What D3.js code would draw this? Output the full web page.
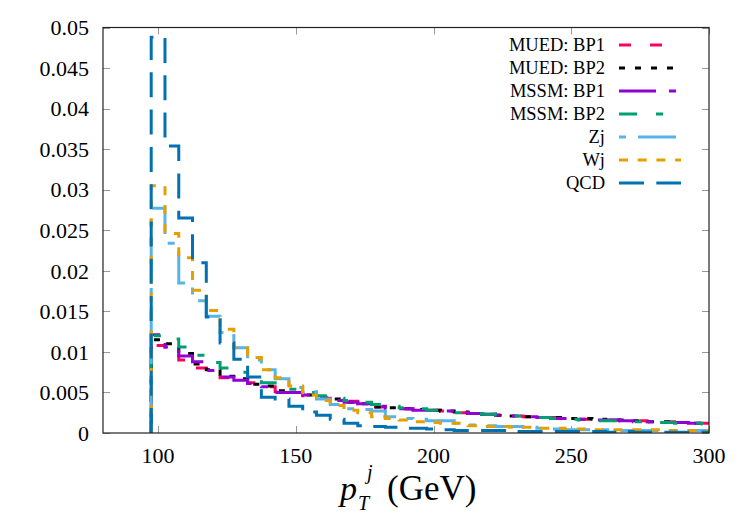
<!DOCTYPE html>
<html><head><meta charset="utf-8">
<script src="https://cdn.jsdelivr.net/npm/d3@7"></script>
<style>body{margin:0;background:#fff} text{font-family:"Liberation Serif","DejaVu Serif",serif;}</style>
</head><body>
<svg id="c" width="750" height="525"></svg>
<script>
const xValues = d3.range(100, 301, 5);
const seriesNames = ["MUED: BP1","MUED: BP2","MSSM: BP1","MSSM: BP2","Zj","Wj","QCD"];
const muedBP1 = [0.0108,0.0106,0.0090,0.0080,0.0075,0.0068,0.0066,0.0062,0.0057,0.0051,0.0050,0.0046,0.0043,0.0041,0.0039,0.0036,0.0032,0.0030,0.0030,0.0029,0.0028,0.0027,0.0025,0.0024,0.0023,0.0022,0.0021,0.0020,0.0019,0.0019,0.0018,0.0017,0.0016,0.0016,0.0015,0.0015,0.0014,0.0014,0.0013,0.0012,0.0012];
const muedBP2 = [0.0115,0.0110,0.0098,0.0085,0.0078,0.0070,0.0067,0.0060,0.0058,0.0052,0.0050,0.0047,0.0044,0.0042,0.0038,0.0036,0.0032,0.0031,0.0030,0.0029,0.0028,0.0027,0.0026,0.0024,0.0023,0.0022,0.0021,0.0020,0.0019,0.0019,0.0018,0.0018,0.0017,0.0016,0.0016,0.0015,0.0014,0.0014,0.0013,0.0012,0.0012];
const mssmBP1 = [0.0121,0.0106,0.0095,0.0088,0.0077,0.0069,0.0065,0.0061,0.0057,0.0050,0.0050,0.0047,0.0044,0.0040,0.0038,0.0036,0.0033,0.0030,0.0030,0.0028,0.0028,0.0027,0.0025,0.0024,0.0023,0.0022,0.0021,0.0020,0.0019,0.0018,0.0018,0.0017,0.0016,0.0016,0.0015,0.0014,0.0014,0.0013,0.0013,0.0012,0.0012];
const mssmBP2 = [0.0120,0.0116,0.0106,0.0096,0.0087,0.0080,0.0075,0.0068,0.0062,0.0058,0.0054,0.0050,0.0046,0.0043,0.0040,0.0038,0.0035,0.0033,0.0031,0.0030,0.0028,0.0027,0.0025,0.0024,0.0023,0.0022,0.0021,0.0020,0.0019,0.0018,0.0017,0.0016,0.0015,0.0015,0.0014,0.0014,0.0013,0.0013,0.0012,0.0012,0.0011];
const zj = [0.0277,0.0234,0.0185,0.0163,0.0144,0.0124,0.0105,0.0090,0.0078,0.0067,0.0056,0.0051,0.0042,0.0035,0.0030,0.0029,0.0027,0.0020,0.0018,0.0017,0.0015,0.0015,0.0012,0.0010,0.0009,0.0008,0.0008,0.0007,0.0006,0.0005,0.0004,0.0004,0.0004,0.0004,0.0003,0.0003,0.0003,0.0003,0.0003,0.0003,0.0003];
const wj = [0.0305,0.0246,0.0216,0.0176,0.0151,0.0128,0.0105,0.0093,0.0078,0.0068,0.0058,0.0047,0.0040,0.0034,0.0028,0.0025,0.0020,0.0018,0.0016,0.0014,0.0013,0.0012,0.0012,0.0009,0.0008,0.0008,0.0007,0.0007,0.0006,0.0006,0.0005,0.0005,0.0004,0.0004,0.0004,0.0004,0.0004,0.0003,0.0003,0.0003,0.0003];
const qcd = [0.0488,0.0354,0.0265,0.0210,0.0143,0.0111,0.0091,0.0069,0.0044,0.0042,0.0033,0.0026,0.0022,0.0017,0.0012,0.0009,0.0008,0.0007,0.0006,0.0006,0.0005,0.0004,0.0003,0.0003,0.0003,0.0003,0.0002,0.0002,0.0002,0.0002,0.0002,0.0002,0.0002,0.0001,0.0002,0.0001,0.0001,0.0001,0.0001,0.0001,0.0001];
const xTickValues = [100,150,200,250,300];
const yTickValues = [0,0.005,0.01,0.015,0.02,0.025,0.03,0.035,0.04,0.045,0.05];
const yTickLabels = ["0","0.005","0.01","0.015","0.02","0.025","0.03","0.035","0.04","0.045","0.05"];

const seriesValues = [muedBP1, muedBP2, mssmBP1, mssmBP2, zj, wj, qcd];
const colors = ["#ff0060","#000000","#9400d3","#009e73","#56b4e9","#e69f00","#0072b2"];
const dashes = ["12,19","6,10","37,13,7,13","18,19,7,19","7,12,38,12","9,9.7","25,12.3"];

const L = 103, R = 709, T = 27.5, B = 433;
const svg = d3.select("#c");
const x = d3.scaleLinear().domain([80,300]).range([L,R]);
const y = d3.scaleLinear().domain([0,0.05]).range([B,T]);

svg.append("clipPath").attr("id","clip").append("rect")
  .attr("x",L).attr("y",T).attr("width",R-L).attr("height",B-T);

const tickLen = 7;
const gT = svg.append("g").attr("stroke","#999").attr("stroke-width",1);
yTickValues.forEach(v => {
  const yy = Math.round(y(v)) + 0.5;
  gT.append("line").attr("x1",L).attr("x2",L+tickLen).attr("y1",yy).attr("y2",yy);
  gT.append("line").attr("x1",R-tickLen).attr("x2",R).attr("y1",yy).attr("y2",yy);
});
xTickValues.forEach(v => {
  const xx = Math.round(x(v)) + 0.5;
  gT.append("line").attr("x1",xx).attr("x2",xx).attr("y1",B).attr("y2",B-tickLen);
  gT.append("line").attr("x1",xx).attr("x2",xx).attr("y1",T).attr("y2",T+tickLen);
});

yTickValues.forEach((v,i) => {
  svg.append("text").attr("x",89).attr("y",y(v)).attr("dy","0.35em")
    .attr("text-anchor","end").style("font-size","22px")
    .text(yTickLabels[i]);
});
xTickValues.forEach(v => {
  svg.append("text").attr("x",x(v)).attr("y",463)
    .attr("text-anchor","middle").style("font-size","22px")
    .text(v);
});

const half = 2.5;
const lineGen = d3.line().x(d => x(d[0])).y(d => y(d[1]));
const plotG = svg.append("g").attr("clip-path","url(#clip)");
seriesValues.forEach((vals,si) => {
  const pts = [[xValues[0]-half, 0]];
  vals.forEach((v,i) => { pts.push([xValues[i]-half, v]); pts.push([xValues[i]+half, v]); });
  pts.push([xValues[xValues.length-1]+half, 0]);
  plotG.append("path").attr("d", lineGen(pts)).attr("fill","none")
    .attr("stroke",colors[si]).attr("stroke-width",3)
    .attr("stroke-dasharray",dashes[si]);
});

svg.append("rect").attr("x",L).attr("y",T).attr("width",R-L).attr("height",B-T)
  .attr("fill","none").attr("stroke","#222").attr("stroke-width",1.2);

seriesNames.forEach((n,i) => {
  const yy = 45 + i*23;
  svg.append("text").attr("x",605).attr("y",yy).attr("dy","0.35em")
    .attr("text-anchor","end").style("font-size","18.5px").text(n);
  svg.append("line").attr("x1",619).attr("x2",681).attr("y1",yy).attr("y2",yy)
    .attr("stroke",colors[i]).attr("stroke-width",3).attr("stroke-dasharray",dashes[i]);
});

// x-axis label
svg.append("text").attr("x",340).attr("y",500).style("font-size","34px").style("font-style","italic").text("p");
svg.append("text").attr("x",358).attr("y",510).style("font-size","20px").style("font-style","italic").text("T");
svg.append("text").attr("x",367).attr("y",479).style("font-size","20px").style("font-style","italic").text("j");
svg.append("text").attr("x",387).attr("y",500).style("font-size","35px").text("(GeV)");
</script>
</body></html>
